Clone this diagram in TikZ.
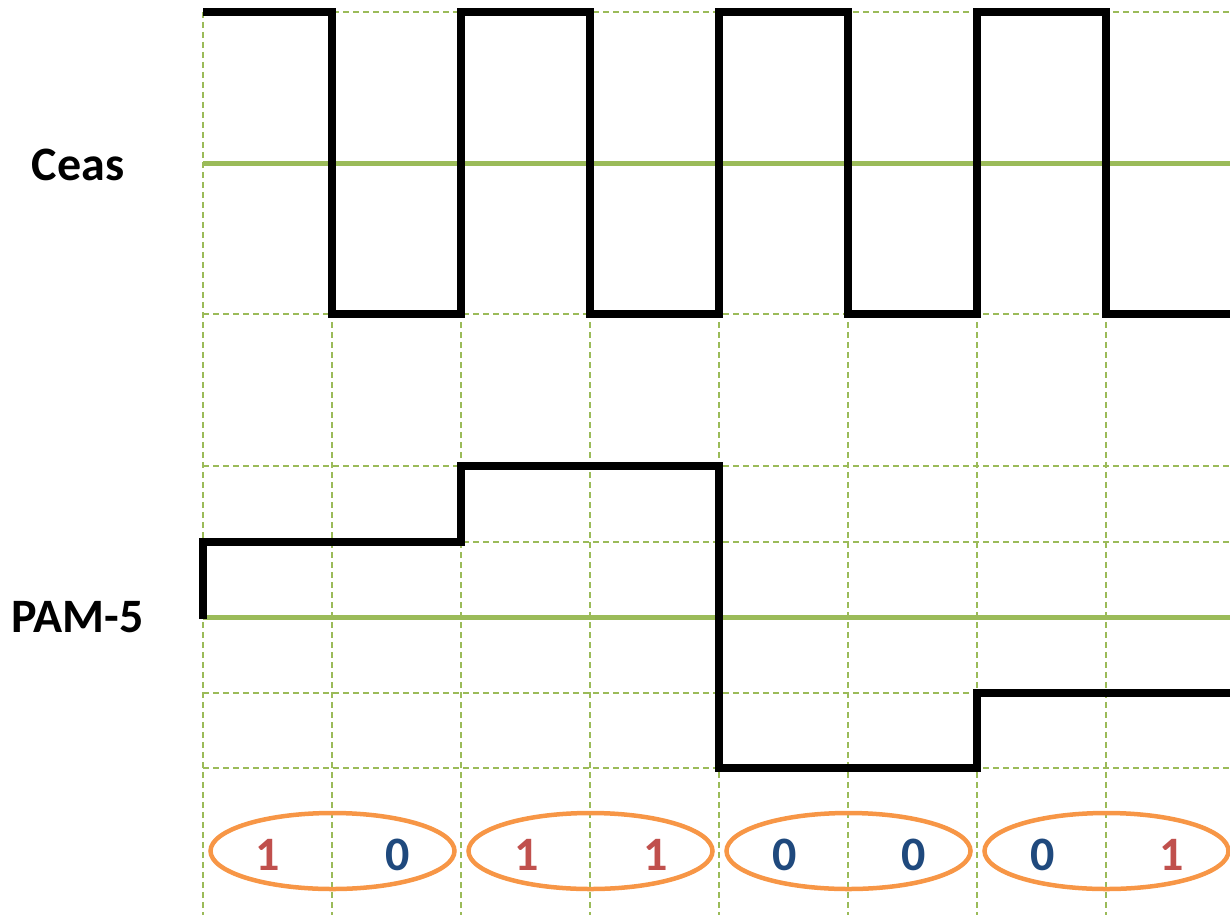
\documentclass[tikz,border=0pt]{standalone}
\usepackage{fontspec}
\setmainfont{Carlito}
\usetikzlibrary{shapes.geometric}
\definecolor{gridc}{HTML}{9BBB59}
\definecolor{ringc}{HTML}{F79646}
\definecolor{onec}{HTML}{C0504D}
\definecolor{zeroc}{HTML}{1F497D}
\begin{document}
\begin{tikzpicture}[x=1pt,y=-1pt,
  gridline/.style={gridc, line width=1.8pt, dash pattern=on 6pt off 4pt},
  axisline/.style={gridc, line width=5pt},
  wave/.style={black, line width=7.5pt, line join=miter},
  lbl/.style={font=\bfseries\fontsize{48}{56}\selectfont, inner sep=0pt},
  bit/.style={font=\bfseries\fontsize{48}{56}\selectfont, inner sep=0pt},
  bitone/.style={bit, text=onec},
  bitzero/.style={bit, text=zeroc},
  pair/.style={draw=ringc, line width=4.5pt, ellipse, minimum width=244pt, minimum height=76pt, inner sep=0pt}]
\useasboundingbox (0,0) rectangle (1230,915);
% grid
\foreach \x in {203,332,461,590,719,848,977,1106}
  \draw[gridline] (\x,12) -- (\x,915);
\foreach \y in {12,314,466,542,693,768}
  \draw[gridline] (203,\y) -- (1230,\y);
\draw[axisline] (203,163) -- (1230,163);
\draw[axisline] (203,617) -- (1230,617);
% clock
\draw[wave] (203,12) -| (332,314) -| (461,12) -| (590,314) -| (719,12) -| (848,314) -| (977,12) -| (1106,314) -- (1230,314);
% PAM-5
\draw[wave] (203,619) |- (461,542) |- (719,466) |- (977,768) |- (1230,693);
% labels
\node[lbl] (ceas) at (78,165) {Ceas};
\node[lbl] (pam) at (77.5,617) {PAM-5};
% ellipses
\node[pair] (e1) at (332.5,851) {};
\node[pair] (e2) at (590.5,851) {};
\node[pair] (e3) at (848.5,851) {};
\node[pair] (e4) at (1106.5,851) {};
\node[bitone]  (b1) at (268,855) {1};
\node[bitzero] (b2) at (398,855) {0};
\node[bitone]  (b3) at (527,855) {1};
\node[bitone]  (b4) at (656,855) {1};
\node[bitzero] (b5) at (785,855) {0};
\node[bitzero] (b6) at (914,855) {0};
\node[bitzero] (b7) at (1043,855) {0};
\node[bitone]  (b8) at (1172,855) {1};
\end{tikzpicture}
\end{document}
